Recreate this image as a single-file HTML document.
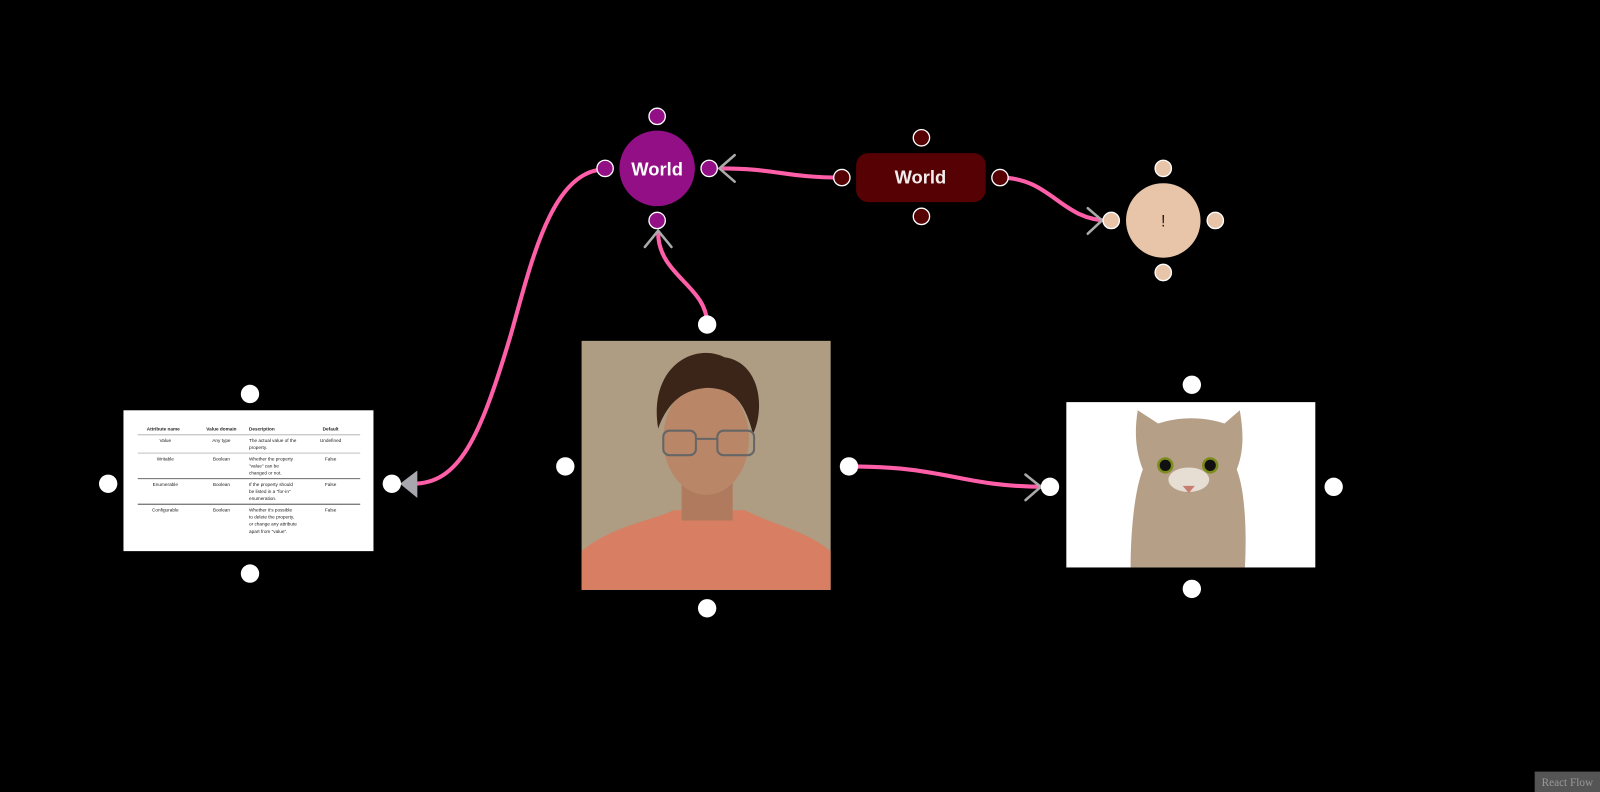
<!DOCTYPE html>
<html><head><meta charset="utf-8"><style>
html,body{margin:0;padding:0;background:#000;width:1600px;height:792px;overflow:hidden}
svg{display:block}
text{font-family:"Liberation Sans",sans-serif}
</style></head><body>
<svg width="1600" height="792" viewBox="0 0 1568 776" preserveAspectRatio="none">
<rect width="1568" height="776" fill="#000"/>
<!-- edges -->
<g fill="none" stroke="#ff5fa8" stroke-width="4" stroke-linecap="round">
<path d="M593 166 C540 166 520 260 500 330 C470 430 450 474 404 474"/>
<path d="M693 318 C693 280 645 270 645 228"/>
<path d="M825 174 C770 174 760 165 707 165"/>
<path d="M980 174 C1030 174 1040 216 1086 216"/>
<path d="M832 457 C930 457 940 477 1026 477"/>
</g>
<g fill="none" stroke="#aaa" stroke-width="2.5" stroke-linecap="round">
<path d="M632 242 L645 226 L658 242"/>
<path d="M720 152 L705 165 L720 178"/>
<path d="M1066 204 L1080 216 L1066 229"/>
<path d="M1005 465 L1020 477 L1005 490"/>
</g>
<path d="M392 474 L409 461 L409 488 Z" fill="#a7a7ad"/>
<!-- purple node -->
<circle cx="644" cy="165" r="37" fill="#930f86"/>
<text x="644" y="172" text-anchor="middle" font-size="18" font-weight="bold" fill="#fff">World</text>
<g fill="#930f86" stroke="#fff" stroke-width="1.3">
<circle cx="644" cy="114" r="8"/><circle cx="644" cy="216" r="8"/><circle cx="593" cy="165" r="8"/><circle cx="695" cy="165" r="8"/>
</g>
<!-- dark rect -->
<rect x="839" y="150" width="127" height="48" rx="12" fill="#560204"/>
<text x="902" y="180" text-anchor="middle" font-size="18" font-weight="bold" fill="#f3ecec">World</text>
<g fill="#560204" stroke="#fff" stroke-width="1.3">
<circle cx="903" cy="135" r="8"/><circle cx="903" cy="212" r="8"/><circle cx="825" cy="174" r="8"/><circle cx="980" cy="174" r="8"/>
</g>
<!-- peach -->
<circle cx="1140" cy="216" r="36.5" fill="#e8c4a8"/>
<text x="1140" y="222" text-anchor="middle" font-size="16" fill="#222">!</text>
<g fill="#e8c4a8" stroke="#fff" stroke-width="1.3">
<circle cx="1140" cy="165" r="8"/><circle cx="1140" cy="267" r="8"/><circle cx="1089" cy="216" r="8"/><circle cx="1191" cy="216" r="8"/>
</g>
<!-- table -->
<rect x="121" y="402" width="245" height="138" fill="#fff"/>
<g font-size="4.6" fill="#222">
<text x="160" y="422" text-anchor="middle" font-weight="bold">Attribute name</text>
<text x="217" y="422" text-anchor="middle" font-weight="bold">Value domain</text>
<text x="244" y="422" font-weight="bold">Description</text>
<text x="324" y="422" text-anchor="middle" font-weight="bold">Default</text>
<text x="162" y="433" text-anchor="middle">Value</text><text x="217" y="433" text-anchor="middle">Any type</text>
<text x="244" y="433">The actual value of the</text><text x="244" y="440">property.</text><text x="324" y="433" text-anchor="middle">Undefined</text>
<text x="162" y="451" text-anchor="middle">Writable</text><text x="217" y="451" text-anchor="middle">Boolean</text>
<text x="244" y="451">Whether the property</text><text x="244" y="458">"value" can be</text><text x="244" y="465">changed or not.</text><text x="324" y="451" text-anchor="middle">False</text>
<text x="162" y="476" text-anchor="middle">Enumerable</text><text x="217" y="476" text-anchor="middle">Boolean</text>
<text x="244" y="476">If the property should</text><text x="244" y="483">be listed in a "for-in"</text><text x="244" y="490">enumeration.</text><text x="324" y="476" text-anchor="middle">False</text>
<text x="162" y="501" text-anchor="middle">Configurable</text><text x="217" y="501" text-anchor="middle">Boolean</text>
<text x="244" y="501">Whether it's possible</text><text x="244" y="508">to delete the property,</text><text x="244" y="515">or change any attribute</text><text x="244" y="522">apart from "value".</text><text x="324" y="501" text-anchor="middle">False</text>
</g>
<line x1="135" y1="426" x2="353" y2="426" stroke="#aaa" stroke-width="0.8"/>
<line x1="135" y1="444" x2="353" y2="444" stroke="#ccc" stroke-width="1.2"/>
<line x1="135" y1="469" x2="353" y2="469" stroke="#555" stroke-width="0.8"/>
<line x1="135" y1="494" x2="353" y2="494" stroke="#333" stroke-width="0.8"/>
<!-- photo -->
<rect x="570" y="334" width="244" height="244" fill="#a8977d"/>
<rect x="570" y="334" width="244" height="244" fill="#b3a389" opacity="0.5"/>
<path d="M570 578 L570 540 C600 515 640 510 660 500 L730 500 C760 515 790 520 814 540 L814 578 Z" fill="#d87e62"/>
<rect x="668" y="470" width="50" height="40" fill="#b07a5e"/>
<ellipse cx="692" cy="430" rx="42" ry="55" fill="#b98667"/>
<path d="M645 420 C635 360 680 335 710 350 C745 355 750 400 738 425 C730 395 720 380 692 380 C665 382 652 400 645 420 Z" fill="#3a2518"/>
<g fill="none" stroke="#666" stroke-width="2"><rect x="650" y="422" width="32" height="24" rx="6"/><rect x="703" y="422" width="36" height="24" rx="6"/><line x1="682" y1="430" x2="703" y2="430"/></g>
<!-- cat -->
<rect x="1045" y="394" width="244" height="162" fill="#fff"/>
<path d="M1108 556 C1108 520 1112 480 1120 460 C1112 440 1112 420 1115 402 L1135 415 C1155 408 1180 408 1200 415 L1215 402 C1218 420 1220 440 1212 460 C1220 480 1222 520 1220 556 Z" fill="#b59f86"/>
<ellipse cx="1165" cy="470" rx="20" ry="12" fill="#e6ddd3"/>
<circle cx="1142" cy="456" r="8" fill="#7a8c1c"/><circle cx="1142" cy="456" r="5.5" fill="#111"/>
<circle cx="1186" cy="456" r="8" fill="#7a8c1c"/><circle cx="1186" cy="456" r="5.5" fill="#111"/>
<path d="M1159 476 L1171 476 L1165 483 Z" fill="#c77d70"/>
<!-- white handles -->
<g fill="#fff">
<circle cx="245" cy="386" r="9"/><circle cx="245" cy="562" r="9"/><circle cx="106" cy="474" r="9"/><circle cx="384" cy="474" r="9"/>
<circle cx="693" cy="318" r="9"/><circle cx="693" cy="596" r="9"/><circle cx="554" cy="457" r="9"/><circle cx="832" cy="457" r="9"/>
<circle cx="1168" cy="377" r="9"/><circle cx="1168" cy="577" r="9"/><circle cx="1029" cy="477" r="9"/><circle cx="1307" cy="477" r="9"/>
</g>
<rect x="1504" y="756" width="64" height="20" fill="#555"/>
<text x="1536" y="770" text-anchor="middle" font-size="11" fill="#999" style="font-family:'Liberation Serif',serif">React Flow</text>
</svg>
</body></html>
